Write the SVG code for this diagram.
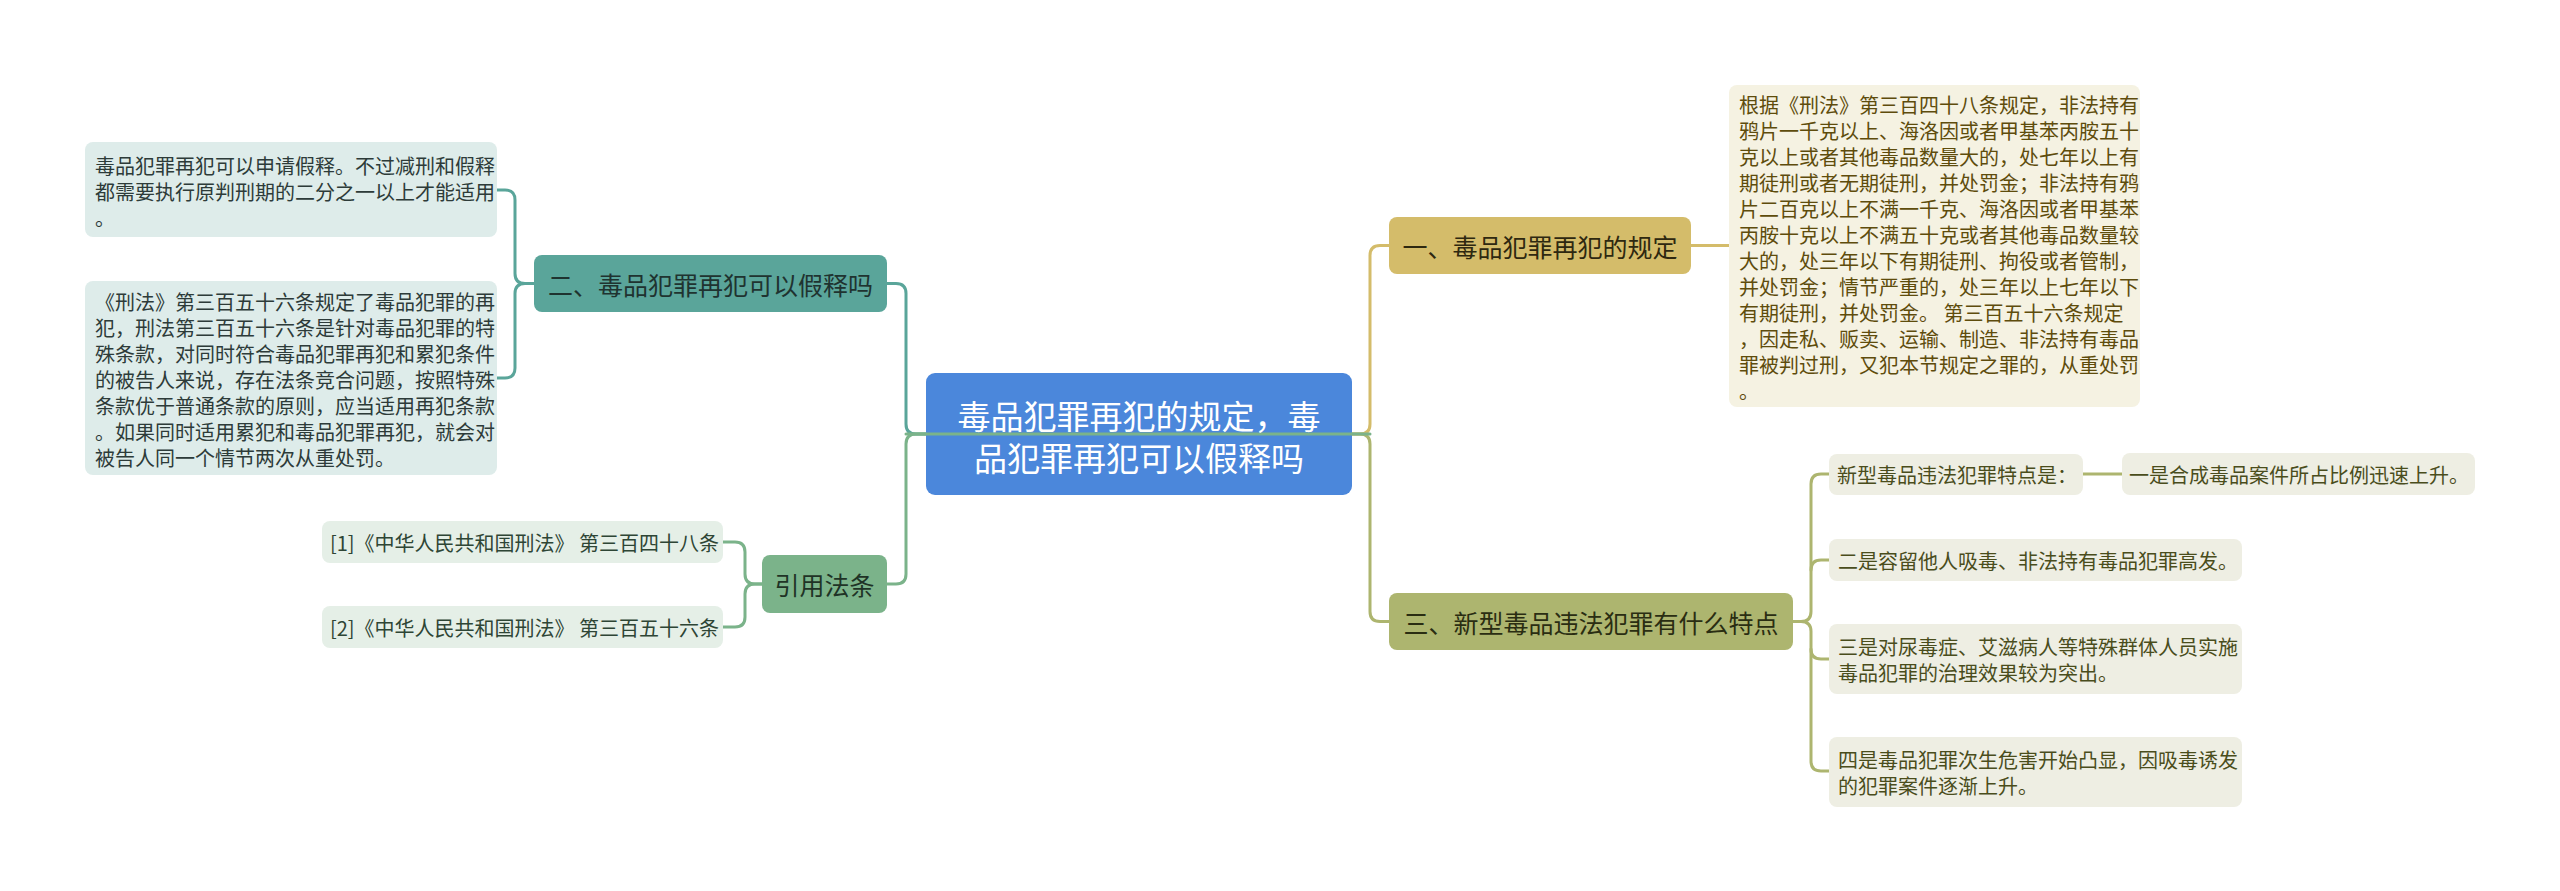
<svg xmlns="http://www.w3.org/2000/svg" width="2560" height="891" viewBox="0 0 2560 891">
<style>
text{font-family:"Noto Sans CJK SC","Noto Sans",sans-serif;dominant-baseline:central}
.leaf{font-size:20px}
.br{font-size:25px}
.c{stroke-width:3;fill:none;stroke-linecap:round}
.teal{stroke:#5aa59a}.green{stroke:#7bb38a}.gold{stroke:#d4bc6a}.olive{stroke:#adb56f}
</style>
<rect width="2560" height="891" fill="#ffffff"/>
<g id="connectors">
<path class="c teal" d="M1139 434 H916 Q906 434 906 424 V293.5 Q906 283.5 896 283.5 H887"/>
<path class="c green" d="M1139 434 H916 Q906 434 906 444 V574 Q906 584 896 584 H887"/>
<path class="c gold" d="M1139 434 H1360 Q1370 434 1370 424 V255.5 Q1370 245.5 1380 245.5 H1389"/>
<path class="c olive" d="M1139 434 H1360 Q1370 434 1370 444 V611.5 Q1370 621.5 1380 621.5 H1389"/>
<path class="c teal" d="M534 283.5 H525 Q515 283.5 515 273.5 V200 Q515 190 505 190 H497"/>
<path class="c teal" d="M534 283.5 H525 Q515 283.5 515 293.5 V368 Q515 378 505 378 H497"/>
<path class="c green" d="M762 584 H755 Q745 584 745 574 V552 Q745 542 735 542 H723"/>
<path class="c green" d="M762 584 H755 Q745 584 745 594 V617 Q745 627 735 627 H723"/>
<path class="c gold" d="M1691 245.5 H1729"/>
<path class="c olive" d="M1793 621.5 H1801 Q1811 621.5 1811 611.5 V484 Q1811 474 1821 474 H1829"/>
<path class="c olive" d="M1811 570 Q1811 560 1821 560 H1829"/>
<path class="c olive" d="M1793 621.5 H1801 Q1811 621.5 1811 631.5 V761 Q1811 771 1821 771 H1829"/>
<path class="c olive" d="M1811 649 Q1811 659 1821 659 H1829"/>
<path class="c olive" d="M2083 474 H2122"/>
</g>
<g id="center">
<rect x="926" y="373" width="426" height="122" rx="9" fill="#4b87db"/>
<path class="c green" d="M906 434 H1370"/>
<text x="1139" y="415" font-size="33" fill="#ffffff" text-anchor="middle">毒品犯罪再犯的规定，毒</text>
<text x="1139" y="457" font-size="33" fill="#ffffff" text-anchor="middle">品犯罪再犯可以假释吗</text>
</g>
<g id="n2">
<rect x="534" y="255" width="353" height="57" rx="8" fill="#5aa59a"/>
<text class="br" x="710.5" y="283.5" fill="#1f3330" text-anchor="middle">二、毒品犯罪再犯可以假释吗</text>
</g>
<g id="n2a">
<rect x="85" y="142" width="412" height="95" rx="8" fill="#deecea"/>
<text class="leaf" fill="#2d3b39"><tspan x="95" y="165">毒品犯罪再犯可以申请假释。不过减刑和假释</tspan><tspan x="95" y="191">都需要执行原判刑期的二分之一以上才能适用</tspan><tspan x="95" y="217">。</tspan></text>
</g>
<g id="n2b">
<rect x="85" y="281" width="412" height="194" rx="8" fill="#deecea"/>
<text class="leaf" fill="#2d3b39"><tspan x="95" y="301">《刑法》第三百五十六条规定了毒品犯罪的再</tspan><tspan x="95" y="327">犯，刑法第三百五十六条是针对毒品犯罪的特</tspan><tspan x="95" y="353">殊条款，对同时符合毒品犯罪再犯和累犯条件</tspan><tspan x="95" y="379">的被告人来说，存在法条竞合问题，按照特殊</tspan><tspan x="95" y="405">条款优于普通条款的原则，应当适用再犯条款</tspan><tspan x="95" y="431">。如果同时适用累犯和毒品犯罪再犯，就会对</tspan><tspan x="95" y="457">被告人同一个情节两次从重处罚。</tspan></text>
</g>
<g id="ref">
<rect x="762" y="555" width="125" height="58" rx="8" fill="#7bb38a"/>
<text class="br" x="824.5" y="584" fill="#1f3326" text-anchor="middle">引用法条</text>
</g>
<g id="ref1">
<rect x="322" y="521" width="401" height="42" rx="8" fill="#e5efe7"/>
<text class="leaf" x="330" y="542" fill="#2e4535">[1]《中华人民共和国刑法》 第三百四十八条</text>
</g>
<g id="ref2">
<rect x="322" y="606" width="401" height="42" rx="8" fill="#e5efe7"/>
<text class="leaf" x="330" y="627" fill="#2e4535">[2]《中华人民共和国刑法》 第三百五十六条</text>
</g>
<g id="n1">
<rect x="1389" y="217" width="302" height="57" rx="8" fill="#d4bc6a"/>
<text class="br" x="1540" y="245.5" fill="#2e2810" text-anchor="middle">一、毒品犯罪再犯的规定</text>
</g>
<g id="n1a">
<rect x="1729" y="85" width="411" height="322" rx="8" fill="#f5f2e2"/>
<text class="leaf" fill="#5e4c0c"><tspan x="1739" y="104">根据《刑法》第三百四十八条规定，非法持有</tspan><tspan x="1739" y="130">鸦片一千克以上、海洛因或者甲基苯丙胺五十</tspan><tspan x="1739" y="156">克以上或者其他毒品数量大的，处七年以上有</tspan><tspan x="1739" y="182">期徒刑或者无期徒刑，并处罚金；非法持有鸦</tspan><tspan x="1739" y="208">片二百克以上不满一千克、海洛因或者甲基苯</tspan><tspan x="1739" y="234">丙胺十克以上不满五十克或者其他毒品数量较</tspan><tspan x="1739" y="260">大的，处三年以下有期徒刑、拘役或者管制，</tspan><tspan x="1739" y="286">并处罚金；情节严重的，处三年以上七年以下</tspan><tspan x="1739" y="312">有期徒刑，并处罚金。 第三百五十六条规定</tspan><tspan x="1739" y="338">，因走私、贩卖、运输、制造、非法持有毒品</tspan><tspan x="1739" y="364">罪被判过刑，又犯本节规定之罪的，从重处罚</tspan><tspan x="1739" y="390">。</tspan></text>
</g>
<g id="n3">
<rect x="1389" y="593" width="404" height="57" rx="8" fill="#adb56f"/>
<text class="br" x="1591" y="621.5" fill="#2a2d12" text-anchor="middle">三、新型毒品违法犯罪有什么特点</text>
</g>
<g id="n3a">
<rect x="1829" y="454" width="254" height="41" rx="8" fill="#eeeee3"/>
<text class="leaf" x="1837" y="474" fill="#4a4d1c">新型毒品违法犯罪特点是：</text>
</g>
<g id="n3a1">
<rect x="2122" y="453" width="353" height="42" rx="8" fill="#eeeee3"/>
<text class="leaf" x="2129" y="474" fill="#4a4d1c">一是合成毒品案件所占比例迅速上升。</text>
</g>
<g id="n3b">
<rect x="1829" y="539" width="413" height="42" rx="8" fill="#eeeee3"/>
<text class="leaf" x="1838" y="560" fill="#4a4d1c">二是容留他人吸毒、非法持有毒品犯罪高发。</text>
</g>
<g id="n3c">
<rect x="1829" y="624" width="413" height="70" rx="8" fill="#eeeee3"/>
<text class="leaf" fill="#4a4d1c"><tspan x="1838" y="646">三是对尿毒症、艾滋病人等特殊群体人员实施</tspan><tspan x="1838" y="672">毒品犯罪的治理效果较为突出。</tspan></text>
</g>
<g id="n3d">
<rect x="1829" y="737" width="413" height="70" rx="8" fill="#eeeee3"/>
<text class="leaf" fill="#4a4d1c"><tspan x="1838" y="759">四是毒品犯罪次生危害开始凸显，因吸毒诱发</tspan><tspan x="1838" y="785">的犯罪案件逐渐上升。</tspan></text>
</g>
</svg>
